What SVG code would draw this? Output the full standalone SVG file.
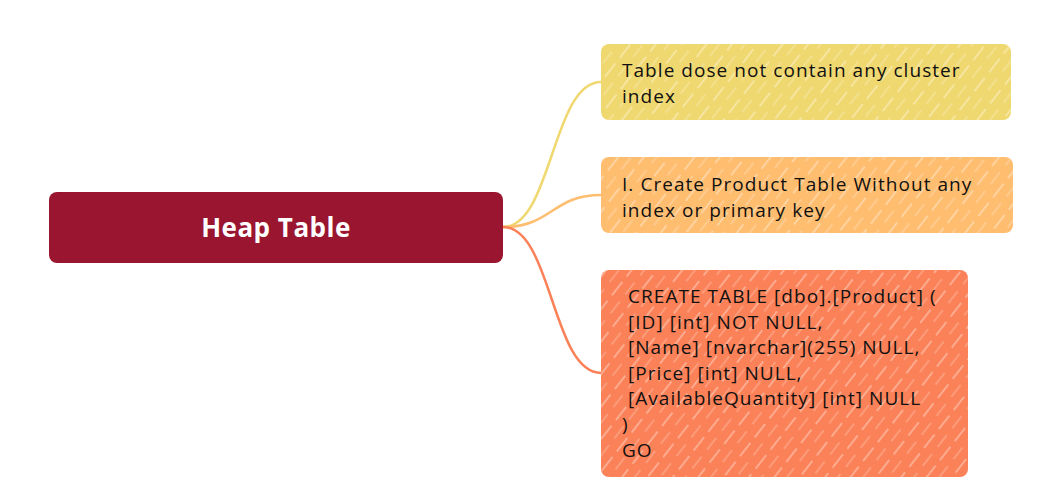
<svg xmlns="http://www.w3.org/2000/svg" width="1063" height="496" viewBox="0 0 1063 496">
<defs>
<pattern id="hatch" width="24" height="20" patternUnits="userSpaceOnUse" patternTransform="rotate(-52)">
<line x1="0" y1="4" x2="17" y2="4" stroke="#ffffff" stroke-width="1.1" stroke-opacity="0.6"/>
<line x1="9" y1="14" x2="24" y2="14" stroke="#ffffff" stroke-width="0.9" stroke-opacity="0.45"/>
</pattern>
<style>
.conn{fill:none;stroke-width:2.5;stroke-linecap:round}
.t{font-family:"Open Sans","Liberation Sans",sans-serif;font-size:19px;letter-spacing:1.05px;fill:#111}
.root{font-family:"Open Sans","Liberation Sans",sans-serif;font-size:26px;letter-spacing:0.5px;font-weight:bold;fill:#fff}
</style>
</defs>
<rect width="1063" height="496" fill="#ffffff"/>
<g id="connectors">
<path class="conn" stroke="#F0D870" d="M503,227 C552,227 552,82 601,82"/>
<path class="conn" stroke="#FFBD70" d="M503,227 C552,227 552,195 601,195"/>
<path class="conn" stroke="#FB8158" d="M503,227 C552,227 552,373 601,373"/>
</g>
<g id="root">
<rect x="49" y="192" width="454" height="71" rx="8" fill="#9A1530"/>
<text class="root" x="276" y="237" text-anchor="middle">Heap Table</text>
</g>
<g id="n1">
<rect x="601" y="44" width="410" height="76" rx="8" fill="#F0D870"/>
<rect x="601" y="44" width="410" height="76" rx="8" fill="url(#hatch)"/>
<text class="t" x="622" y="77">Table dose not contain any cluster</text>
<text class="t" x="622" y="103">index</text>
</g>
<g id="n2">
<rect x="601" y="157" width="412" height="76" rx="8" fill="#FFBD70"/>
<rect x="601" y="157" width="412" height="76" rx="8" fill="url(#hatch)"/>
<text class="t" x="622" y="191">I. Create Product Table Without any</text>
<text class="t" x="622" y="217">index or primary key</text>
</g>
<g id="n3">
<rect x="601" y="270" width="367" height="207" rx="8" fill="#FB8158"/>
<rect x="601" y="270" width="367" height="207" rx="8" fill="url(#hatch)"/>
<text class="t" x="628" y="303">CREATE TABLE [dbo].[Product] (</text>
<text class="t" x="628" y="329">[ID] [int] NOT NULL,</text>
<text class="t" x="628" y="354">[Name] [nvarchar](255) NULL,</text>
<text class="t" x="628" y="380">[Price] [int] NULL,</text>
<text class="t" x="628" y="405">[AvailableQuantity] [int] NULL</text>
<text class="t" x="622" y="431">)</text>
<text class="t" x="622" y="457">GO</text>
</g>
</svg>
